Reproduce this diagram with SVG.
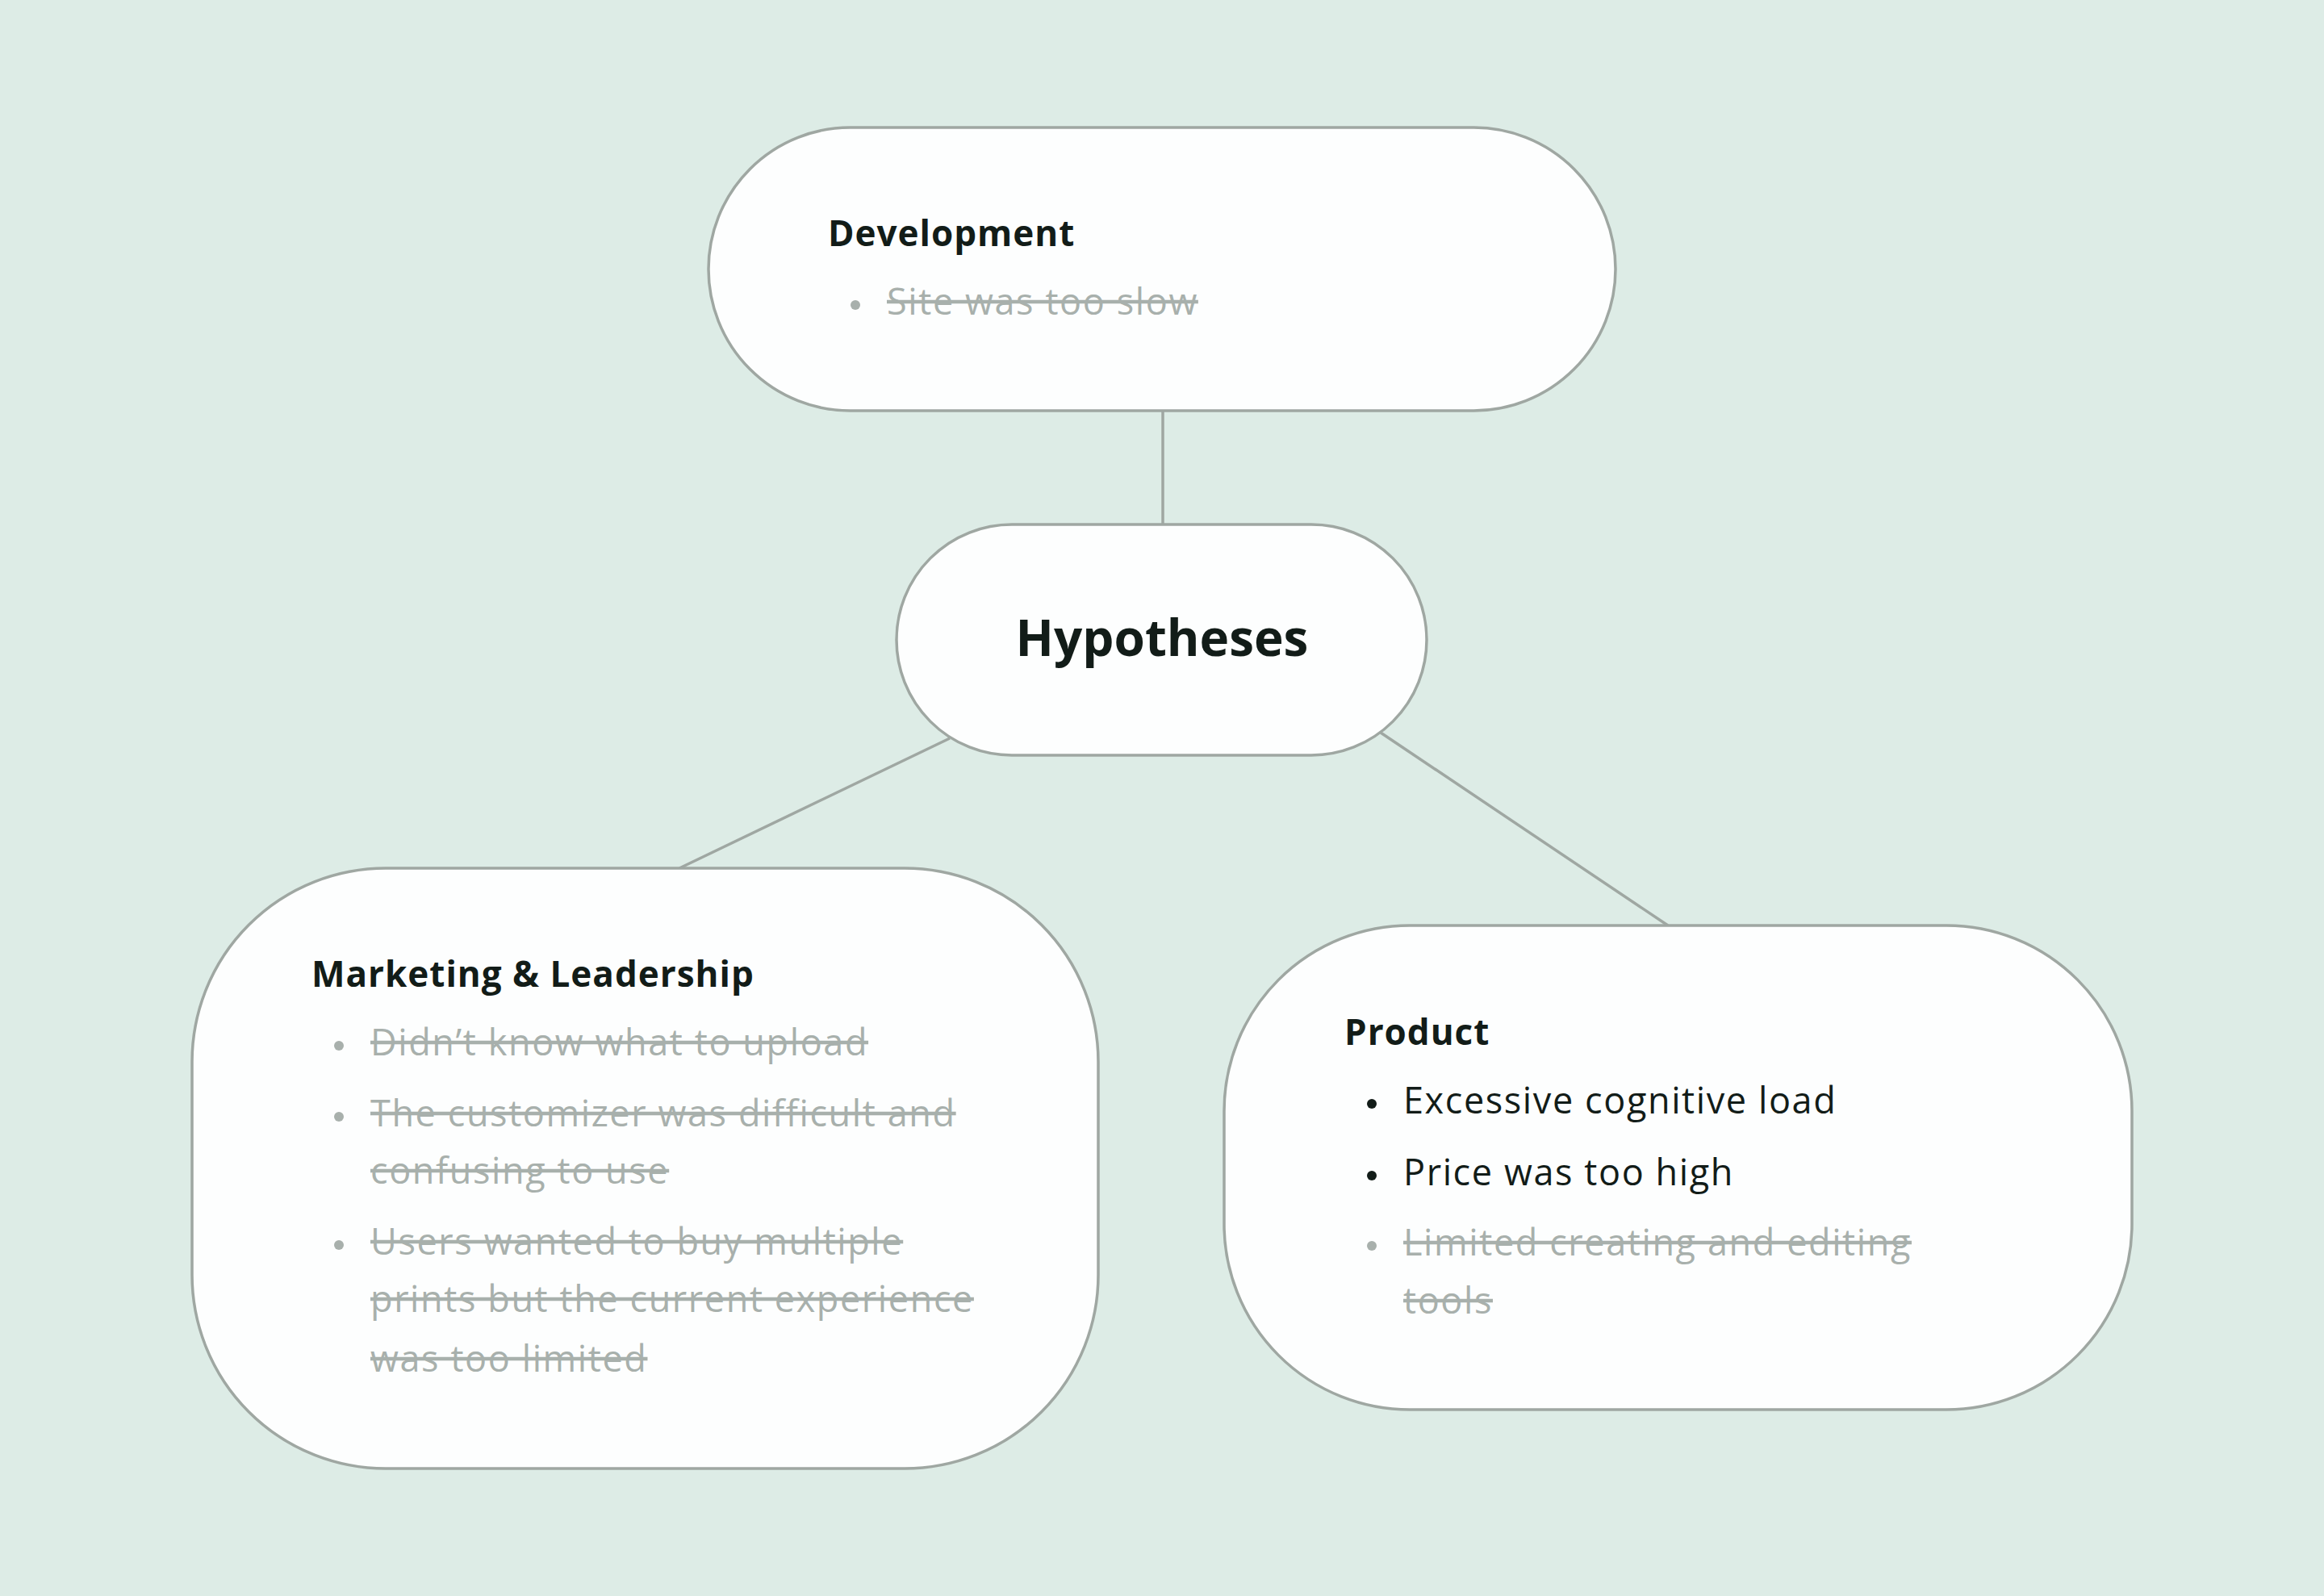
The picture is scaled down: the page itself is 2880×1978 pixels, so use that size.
<svg xmlns="http://www.w3.org/2000/svg" width="2880" height="1978" viewBox="0 0 2880 1978">
<style>
.node{fill:#FDFEFE;stroke:#9FA7A2;stroke-width:3.5}
.conn{stroke:#9FA7A2;stroke-width:3.5;fill:none}
.h{font-family:"Open Sans",Lato,sans-serif;font-weight:700;fill:#121C18;font-size:44px;letter-spacing:1px}
.t{font-family:"Open Sans",Lato,sans-serif;font-weight:400;fill:#121C18;font-size:45px;letter-spacing:1.6px}
.s{font-family:"Open Sans",Lato,sans-serif;font-weight:400;fill:#A8B0AC;font-size:45px;letter-spacing:1.6px;text-decoration:line-through}
.bd{fill:#121C18}
.bs{fill:#A8B0AC}
</style>
<rect width="2880" height="1978" fill="#DDECE6"/>
<g id="connectors">
<line class="conn" x1="1441" y1="509" x2="1441" y2="650"/>
<line class="conn" x1="1177" y1="915" x2="842" y2="1076"/>
<line class="conn" x1="1711" y1="908" x2="2067" y2="1147"/>
</g>
<g id="development">
<rect class="node" x="878" y="158" width="1124" height="351" rx="175.5"/>
<text class="h" x="1026" y="305">Development</text>
<circle class="bs" cx="1060" cy="378" r="6"/>
<text class="s" x="1099" y="390">Site was too slow</text>
</g>
<g id="hypotheses">
<rect class="node" x="1111" y="650" width="657" height="286" rx="143"/>
<text class="h" x="1440" y="813" text-anchor="middle" style="font-size:62px;letter-spacing:0">Hypotheses</text>
</g>
<g id="marketing">
<rect class="node" x="238" y="1076" width="1123" height="744" rx="240"/>
<text class="h" x="386" y="1223">Marketing &amp; Leadership</text>
<circle class="bs" cx="420" cy="1296" r="6"/>
<text class="s" x="459" y="1308">Didn’t know what to upload</text>
<circle class="bs" cx="420" cy="1384" r="6"/>
<text class="s" x="459" y="1396">The customizer was difficult and</text>
<text class="s" x="459" y="1467">confusing to use</text>
<circle class="bs" cx="420" cy="1543" r="6"/>
<text class="s" x="459" y="1555">Users wanted to buy multiple</text>
<text class="s" x="459" y="1626">prints but the current experience</text>
<text class="s" x="459" y="1700">was too limited</text>
</g>
<g id="product">
<rect class="node" x="1517" y="1147" width="1125" height="600" rx="230"/>
<text class="h" x="1666" y="1295">Product</text>
<circle class="bd" cx="1700" cy="1368" r="6"/>
<text class="t" x="1739" y="1380">Excessive cognitive load</text>
<circle class="bd" cx="1700" cy="1457" r="6"/>
<text class="t" x="1739" y="1469">Price was too high</text>
<circle class="bs" cx="1700" cy="1544" r="6"/>
<text class="s" x="1739" y="1556">Limited creating and editing</text>
<text class="s" x="1739" y="1628">tools</text>
</g>
</svg>
